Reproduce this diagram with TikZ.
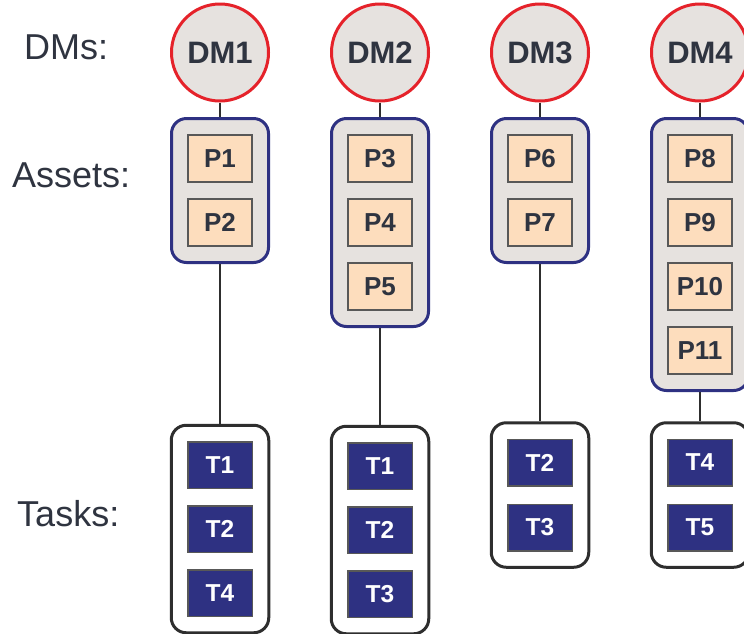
\documentclass[tikz,border=0pt]{standalone}
\usepackage{fontspec}
\setmainfont{Liberation Sans}
\usetikzlibrary{backgrounds}
\definecolor{dmred}{HTML}{E5222A}
\definecolor{dmfill}{HTML}{E6E2DF}
\definecolor{ink}{HTML}{2F3440}
\definecolor{navy}{HTML}{2E3182}
\definecolor{peach}{HTML}{FDDDBD}
\definecolor{frame}{HTML}{2E2E2E}
\begin{document}
\begin{tikzpicture}[x=1pt,y=-1pt,
  rowlabel/.style={anchor=base west,inner sep=0pt,text=ink,font=\fontsize{36}{36}\selectfont},
  dm/.style={circle,draw=dmred,line width=3pt,fill=dmfill,minimum size=97pt,inner sep=0pt,
    text=ink,font=\bfseries\fontsize{31}{31}\selectfont},
  asset/.style={rectangle,draw=frame!80,line width=1.8pt,fill=peach,minimum width=64pt,minimum height=47pt,
    inner sep=0pt,text=ink,font=\bfseries\fontsize{26}{26}\selectfont},
  task/.style={rectangle,draw=frame!80,line width=1.5pt,fill=navy,minimum width=64.5pt,minimum height=46.5pt,
    inner sep=0pt,text=white,font=\bfseries\fontsize{24.5}{24.5}\selectfont},
  assetgroup/.style={rectangle,rounded corners=15pt,draw=navy,line width=3pt,fill=dmfill,
    minimum width=97pt,minimum height=#1,inner sep=0pt},
  taskgroup/.style={rectangle,rounded corners=15pt,draw=frame,line width=3pt,fill=white,
    minimum width=97.5pt,minimum height=#1,inner sep=0pt},
  link/.style={draw=frame,line width=1.6pt}]
\clip (0,0) rectangle (744,633);
\fill[white] (0,0) rectangle (744,633);

% row captions
\node[rowlabel] (capdm) at (24,59) {DMs:};
\node[rowlabel] (capas) at (12,187) {Assets:};
\node[rowlabel] (capts) at (17,526) {Tasks:};

% group frames behind the items
\node[assetgroup=144pt] (a1) at (220,190.5) {};
\node[assetgroup=208pt] (a2) at (380,222.5) {};
\node[assetgroup=144pt] (a3) at (540,190.5) {};
\node[assetgroup=272pt] (a4) at (700,254.5) {};
\node[taskgroup=207.5pt] (g1) at (220,529) {};
\node[taskgroup=207.5pt] (g2) at (380,530) {};
\node[taskgroup=144.5pt] (g3) at (540,495) {};
\node[taskgroup=144.5pt] (g4) at (700,495) {};

% decision makers
\node[dm] (dm1) at (220,52.5) {DM1};
\node[dm] (dm2) at (380,52.5) {DM2};
\node[dm] (dm3) at (540,52.5) {DM3};
\node[dm] (dm4) at (700,52.5) {DM4};

% assets
\node[asset] (p1) at (220,158.5) {P1};
\node[asset] (p2) at (220,222.5) {P2};
\node[asset] (p3) at (380,158.5) {P3};
\node[asset] (p4) at (380,222.5) {P4};
\node[asset] (p5) at (380,286.5) {P5};
\node[asset] (p6) at (540,158.5) {P6};
\node[asset] (p7) at (540,222.5) {P7};
\node[asset] (p8) at (700,158.5) {P8};
\node[asset] (p9) at (700,222.5) {P9};
\node[asset] (p10) at (700,286.5) {P10};
\node[asset] (p11) at (700,350.5) {P11};

% tasks
\node[task] (t1a) at (220,465) {T1};
\node[task] (t1b) at (220,529) {T2};
\node[task] (t1c) at (220,593) {T4};
\node[task] (t2a) at (380,466) {T1};
\node[task] (t2b) at (380,530) {T2};
\node[task] (t2c) at (380,594) {T3};
\node[task] (t3a) at (540,462.5) {T2};
\node[task] (t3b) at (540,527.5) {T3};
\node[task] (t4a) at (700,462.5) {T4};
\node[task] (t4b) at (700,527.5) {T5};

% connectors
\foreach \i in {1,...,4}{
  \draw[link] (dm\i.south) -- (a\i.north);
  \draw[link] (a\i.south) -- (g\i.north);
}
\end{tikzpicture}
\end{document}
